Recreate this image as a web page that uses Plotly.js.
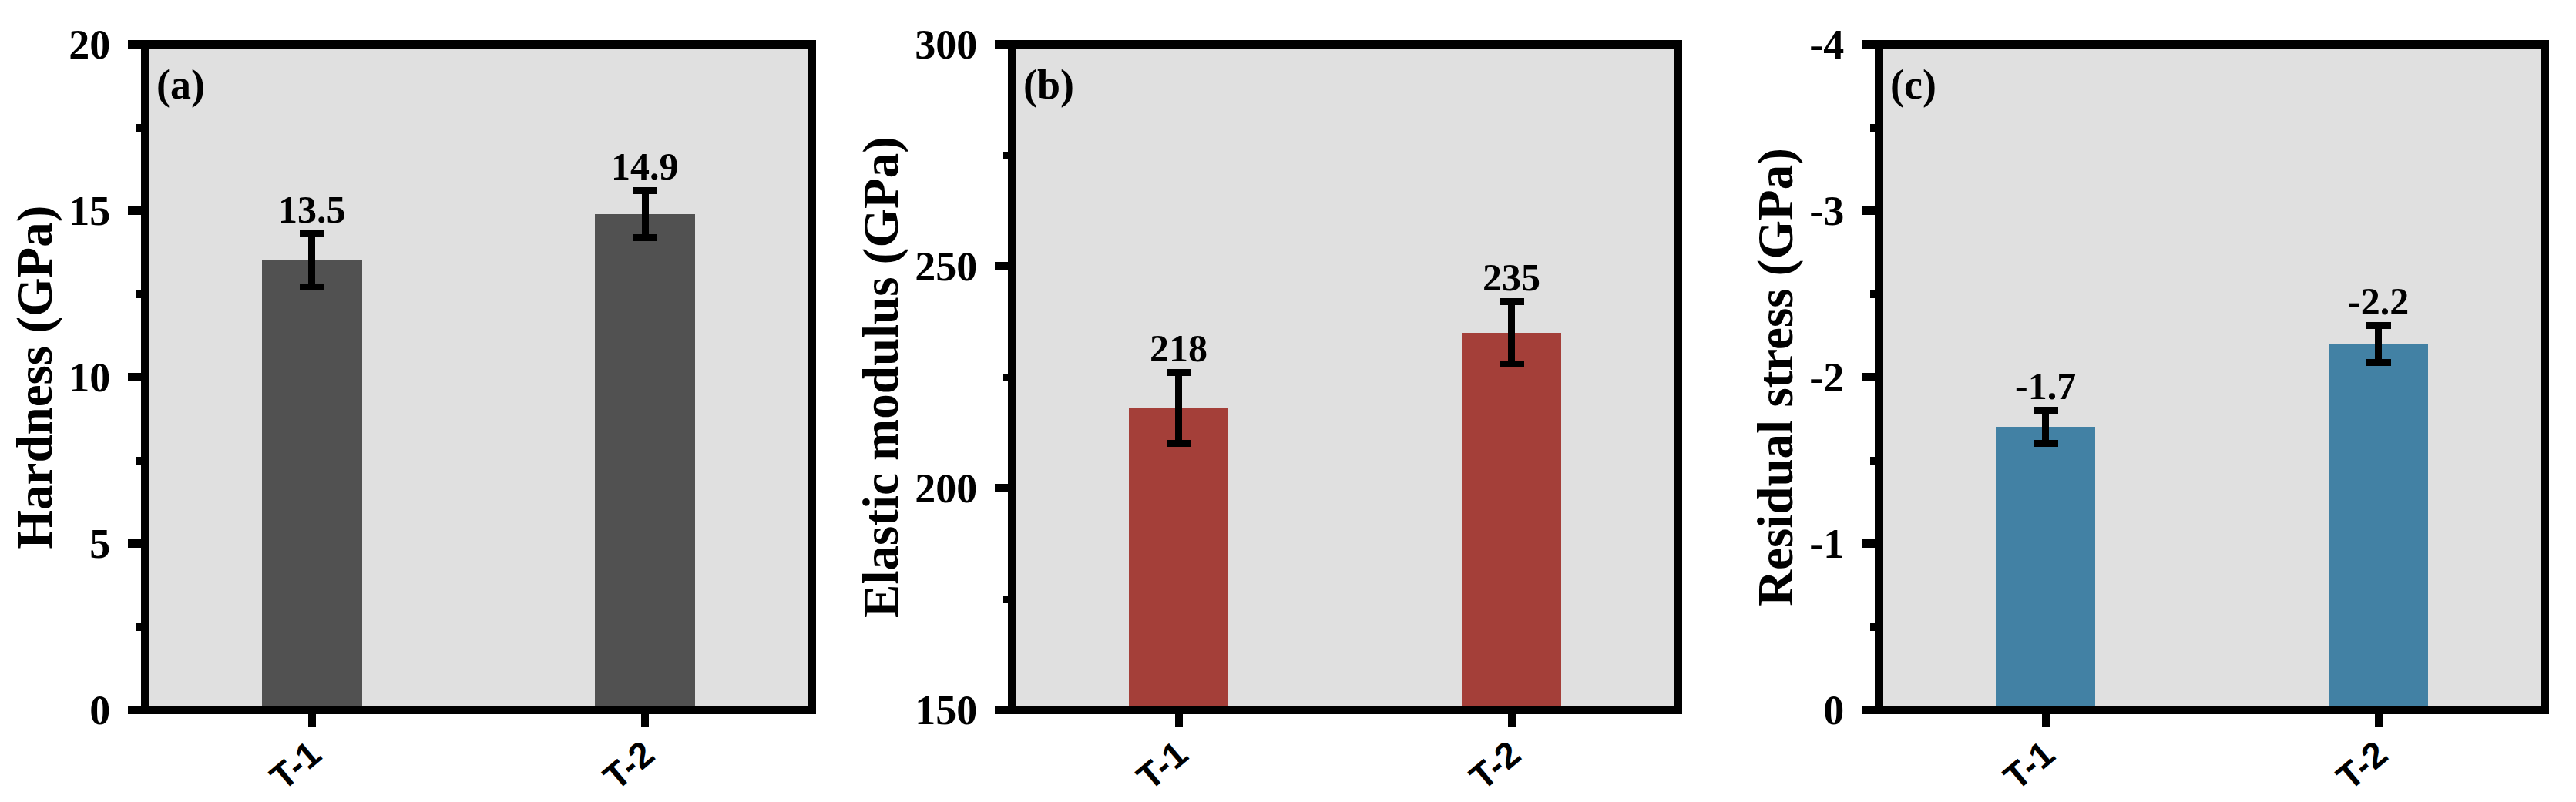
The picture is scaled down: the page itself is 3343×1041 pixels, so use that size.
<!DOCTYPE html>
<html>
<head>
<meta charset="utf-8">
<script src="https://cdn.plot.ly/plotly-3.0.1.min.js"></script>
<style>html,body{margin:0;padding:0;background:#fff;}#chart{width:3343px;height:1041px;}</style>
</head>
<body>
<div id="chart"></div>
<script>
// ---- data ----
const categories = ['T-1', 'T-2'];

const hardness = [13.5, 14.9];
const hardnessErr = [0.8, 0.7];
const hardnessLabels = ['13.5', '14.9'];

const modulus = [218, 235];
const modulusErr = [8, 7];
const modulusLabels = ['218', '235'];

const stress = [-1.7, -2.2];
const stressErr = [0.1, 0.11];
const stressLabels = ['-1.7', '-2.2'];

const hardnessTickVals = [0, 5, 10, 15, 20];
const hardnessTickText = ['0', '5', '10', '15', '20'];
const modulusTickVals = [150, 200, 250, 300];
const modulusTickText = ['150', '200', '250', '300'];
const stressTickVals = [0, -1, -2, -3, -4];
const stressTickText = ['0', '-1', '-2', '-3', '-4'];

const panelLetters = ['(a)', '(b)', '(c)'];
const yTitles = ['Hardness (GPa)', 'Elastic modulus (GPa)', 'Residual stress (GPa)'];

// ---- styling ----
const W = 3343, H = 1041;
const serif = 'Liberation Serif, Times New Roman, serif';
const sans = 'Liberation Sans, Arial, sans-serif';
const colors = ['#515151', '#A43F39', '#4281A4'];
const pxX = [[188.5, 1053.5], [1313.5, 2177.5], [2438.5, 3302.5]];
const yDom = [1 - 921.5 / H, 1 - 57.5 / H];

const series = [
  {vals: hardness, errs: hardnessErr, labels: hardnessLabels},
  {vals: modulus, errs: modulusErr, labels: modulusLabels},
  {vals: stress, errs: stressErr, labels: stressLabels}
];

const traces = [];
const annotations = [];
const shapes = [];
const layout = {
  width: W, height: H,
  margin: {l: 0, r: 0, t: 0, b: 0},
  paper_bgcolor: '#ffffff',
  plot_bgcolor: '#e0e0e0',
  showlegend: false,
  bargap: 0
};

const yCfg = [
  {range: [0, 20], tickvals: hardnessTickVals, ticktext: hardnessTickText, minor: 2.5},
  {range: [150, 300], tickvals: modulusTickVals, ticktext: modulusTickText, minor: 25},
  {range: [0, -4], tickvals: stressTickVals, ticktext: stressTickText, minor: 0.5}
];

series.forEach((s, i) => {
  const n = i === 0 ? '' : String(i + 1);
  const xa = 'x' + n, ya = 'y' + n;
  traces.push({
    type: 'bar',
    x: categories,
    y: s.vals,
    xaxis: xa, yaxis: ya,
    width: 0.3,
    marker: {color: colors[i], line: {width: 0}},
    error_y: {type: 'data', array: s.errs, visible: true, color: '#000', thickness: 9, width: 16}
  });
  layout['xaxis' + n] = {
    domain: [pxX[i][0] / W, pxX[i][1] / W],
    anchor: ya,
    type: 'category',
    range: [-0.5, 1.5],
    showgrid: false, zeroline: false, showline: false,
    ticks: 'outside', ticklen: 21.5, tickwidth: 10, tickcolor: '#000',
    tickangle: -40,
    ticklabelstandoff: -11,
    tickfont: {family: sans, size: 47, weight: 'bold', color: '#000'}
  };
  const yc = yCfg[i];
  layout['yaxis' + n] = {
    domain: yDom,
    anchor: xa,
    range: yc.range,
    tickmode: 'array', tickvals: yc.tickvals, ticktext: yc.ticktext,
    showgrid: false, zeroline: false, showline: false,
    ticks: 'outside', ticklen: 21.5, tickwidth: 11, tickcolor: '#000',
    ticklabelstandoff: 12,
    minor: {dtick: yc.minor, ticks: 'outside', ticklen: 10.5, tickwidth: 10, tickcolor: '#000', showgrid: false},
    tickfont: {family: serif, size: 54, weight: 'bold', color: '#000'},
    title: {text: yTitles[i], standoff: 0, font: {family: serif, size: 65, weight: 'bold', color: '#000'}}
  };
  // frame
  shapes.push({
    type: 'rect', xref: xa + ' domain', yref: ya + ' domain',
    x0: 0, x1: 1, y0: 0, y1: 1,
    line: {color: '#000', width: 11}, fillcolor: 'rgba(0,0,0,0)', layer: 'above'
  });
  // panel letter
  annotations.push({
    xref: xa + ' domain', yref: ya + ' domain', x: 0, y: 1,
    xanchor: 'left', yanchor: 'top', xshift: 12, yshift: -20,
    text: panelLetters[i], showarrow: false,
    font: {family: serif, size: 54, weight: 'bold', color: '#000'}
  });
  // value labels above error bars
  s.vals.forEach((v, j) => {
    const top = v >= 0 ? v + s.errs[j] : v - s.errs[j];
    annotations.push({
      xref: xa, yref: ya, x: categories[j], y: top,
      xanchor: 'center', yanchor: 'bottom', yshift: 2,
      text: s.labels[j], showarrow: false,
      font: {family: serif, size: 50, weight: 'bold', color: '#000'}
    });
  });
});

layout.shapes = shapes;
layout.annotations = annotations;

Plotly.newPlot('chart', traces, layout, {staticPlot: true, displayModeBar: false});
</script>
</body>
</html>
